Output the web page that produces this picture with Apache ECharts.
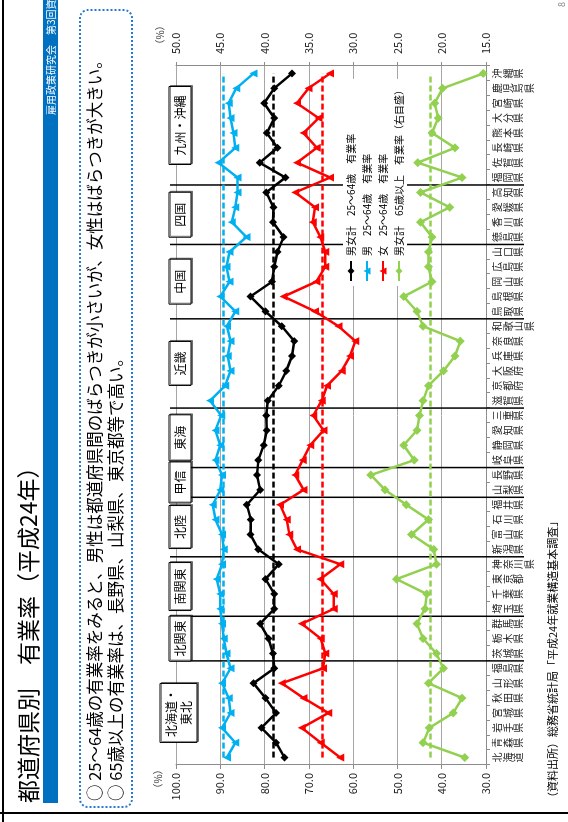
<!DOCTYPE html>
<html>
<head>
<meta charset="utf-8">
<script src="https://cdn.jsdelivr.net/npm/echarts@6/dist/echarts.min.js"></script>
<style>
html, body { margin: 0; padding: 0; background: #fff; overflow: hidden; }
/* the slide is drawn landscape and turned a quarter turn, like the scanned page */
#page {
    position: absolute; left: 0; top: 0;
    width: 822px; height: 568px;
    transform-origin: 0 0;
    transform: translate(0, 822px) rotate(-90deg);
}
</style>
</head>
<body>
<div id="page"></div>
<script>
var FONT = '"Noto Sans CJK JP", "Noto Sans", sans-serif'

var prefs = ['北海道','青森県','岩手県','宮城県','秋田県','山形県','福島県','茨城県','栃木県','群馬県',
    '埼玉県','千葉県','東京都','神奈川県','新潟県','富山県','石川県','福井県','山梨県','長野県',
    '岐阜県','静岡県','愛知県','三重県','滋賀県','京都府','大阪府','兵庫県','奈良県','和歌山県',
    '鳥取県','島根県','岡山県','広島県','山口県','徳島県','香川県','愛媛県','高知県','福岡県',
    '佐賀県','長崎県','熊本県','大分県','宮崎県','鹿児島県','沖縄県']

// 男女計 25～64歳 有業率
var total2564 = [75.5,77.4,80.7,77.4,79.8,82.5,77.8,78.1,79.1,81.0,
    77.8,77.8,79.8,76.8,81.4,83.2,83.1,84.0,81.0,81.7,
    81.4,80.2,79.5,79.6,79.3,76.8,75.1,73.8,73.3,76.1,
    79.8,83.2,78.3,77.8,77.1,75.7,78.1,78.0,79.6,75.3,
    81.1,77.1,79.5,77.8,80.1,77.8,73.8]
// 男 25～64歳
var male2564 = [88.5,86.6,89.6,87.7,88.1,89.6,87.7,88.6,89.2,89.6,
    90.0,90.0,90.8,89.6,89.2,89.6,91.1,91.7,90.0,89.6,
    91.1,90.0,91.1,89.8,92.3,88.9,87.7,88.3,87.7,88.5,
    86.6,90.0,87.9,88.6,87.9,84.1,87.4,86.6,86.1,86.1,
    90.4,86.6,87.0,87.7,88.1,86.4,82.5]
// 女 25～64歳
var female2564 = [62.9,67.3,71.6,65.6,71.2,76.1,66.8,66.3,67.3,71.6,
    64.4,64.4,67.4,62.9,72.7,74.4,75.0,76.5,71.2,73.1,
    71.4,69.7,66.7,69.0,67.1,65.9,62.6,60.7,59.5,63.3,
    68.6,75.7,68.3,66.3,66.3,67.4,69.1,68.6,73.1,65.2,
    72.7,68.2,71.2,67.8,72.7,70.1,65.2]
// 男女計 65歳以上 (右目盛)
var total65 = [17.4,22.1,21.4,18.7,17.7,21.5,19.8,20.6,22.1,22.8,
    21.9,21.7,25.1,20.6,20.9,23.4,21.5,24.0,26.4,28.0,
    23.1,24.3,22.8,22.5,22.1,21.5,19.8,18.5,17.9,22.1,
    22.8,24.3,21.1,21.5,21.5,21.1,22.4,19.1,22.4,17.7,
    22.7,18.5,21.1,20.4,20.8,19.9,15.3]

// 全国平均 (破線)
var avgTotal = 78.1
var avgMale = 89.4
var avgFemale = 66.9
var avg65 = 21.3

var regionNames = ['北海道・\n東北','北関東','南関東','北陸','甲信','東海','近畿','中国','四国','九州・沖縄']
var regionFirst = [0,7,10,14,18,20,24,30,35,39]

var seriesNames = ['男女計　25～64歳　有業率','男　25～64歳　有業率','女　25～64歳　有業率','男女計　65歳以上　有業率（右目盛）']

// box sizes of the region tags
var boxW = [59,45,48,43,41,46,44,45,45,78]

function mk(name, data, color, symbol, size, axis, avg) {
    return {
        name: name,
        type: 'line',
        data: data,
        yAxisIndex: axis,
        symbol: symbol,
        symbolSize: size,
        z: 3,
        lineStyle: { width: 2.5, color: color },
        itemStyle: { color: color },
        markLine: {
            silent: true,
            symbol: ['none','none'],
            label: { show: false },
            lineStyle: { type: [6,3], width: 2.5, color: color },
            data: [[{ coord: [prefs[0], avg] }, { coord: [prefs[prefs.length-1], avg] }]]
        }
    }
}

var staticGraphic = [
    // frame
    { type:'line', shape:{x1:0,y1:3,x2:822,y2:3}, style:{stroke:'#000',lineWidth:2} },
    { type:'line', shape:{x1:9,y1:0,x2:9,y2:568}, style:{stroke:'#000',lineWidth:2} },
    // title + blue band
    { type:'text', x:19, y:28, style:{ text:'都道府県別　有業率（平成24年）', fontSize:23, fontFamily:FONT, fill:'#000', verticalAlign:'middle' } },
    { type:'rect', shape:{x:19,y:43,width:810,height:15}, style:{fill:'#0070c0'} },
    { type:'text', x:707, y:51, style:{ text:'雇用政策研究会　第3回資料', fontSize:10, fontFamily:FONT, fill:'#fff', verticalAlign:'middle' } },
    { type:'text', x:815, y:562, style:{ text:'8', fontSize:9, fontFamily:FONT, fill:'#888', verticalAlign:'middle' } },
    // summary box
    { type:'rect', shape:{x:15,y:80,width:797,height:52,r:8}, style:{fill:'none',stroke:'#2a78cf',lineWidth:2,lineDash:[2,2]} },
    { type:'text', x:21, y:95, style:{ text:'○ 25～64歳の有業率をみると、男性は都道府県間のばらつきが小さいが、女性はばらつきが大きい。', fontSize:16.5, fontFamily:FONT, fill:'#000', verticalAlign:'middle' } },
    { type:'text', x:21, y:116, style:{ text:'○ 65歳以上の有業率は、長野県、山梨県、東京都等で高い。', fontSize:16.5, fontFamily:FONT, fill:'#000', verticalAlign:'middle' } },
    // axis units
    { type:'text', x:43, y:158, style:{ text:'（%）', fontSize:10, fontFamily:FONT, fill:'#333', align:'center', verticalAlign:'middle' } },
    { type:'text', x:787, y:160, style:{ text:'（%）', fontSize:10, fontFamily:FONT, fill:'#333', align:'center', verticalAlign:'middle' } },
    // source
    { type:'text', x:19, y:553, style:{ text:'（資料出所）総務省統計局「平成24年就業構造基本調査」', fontSize:11, fontFamily:FONT, fill:'#000', verticalAlign:'middle' } }
]

var dom = document.getElementById('page')
var chart = echarts.init(dom)
var option = {
    animation: false,
    backgroundColor: '#fff',
    textStyle: { fontFamily: FONT },
    grid: { left: 57, right: 66, top: 176, bottom: 82, containLabel: false, outerBoundsMode: 'none' },
    legend: {
        orient: 'vertical',
        left: 536, top: 343,
        z: 20,
        backgroundColor: '#fff',
        padding: [2, 6, 2, 4],
        itemWidth: 20, itemHeight: 9, itemGap: 4,
        textStyle: { fontSize: 10, lineHeight: 12, color: '#000', fontFamily: FONT },
        data: seriesNames
    },
    xAxis: {
        type: 'category',
        data: prefs,
        axisLine: { lineStyle: { color: '#8c8c8c' } },
        axisTick: { show: true, length: 4, lineStyle: { color: '#8c8c8c' } },
        axisLabel: {
            interval: 0, fontSize: 10, lineHeight: 10.5, color: '#222', margin: 6,
            verticalAlign: 'top',
            formatter: function(v) { return v.split('').join('\n') }
        }
    },
    yAxis: [{
        type: 'value', min: 30, max: 100, interval: 10, position: 'left',
        axisLine: { show: true, lineStyle: { color: '#8c8c8c' } },
        axisTick: { show: true, length: 4, lineStyle: { color: '#8c8c8c' } },
        splitLine: { lineStyle: { color: '#a6a6a6' } },
        axisLabel: { fontSize: 11, color: '#222', margin: 8, formatter: function(v) { return v.toFixed(1) } }
    }, {
        type: 'value', min: 15, max: 50, interval: 5, position: 'right',
        axisLine: { show: true, lineStyle: { color: '#8c8c8c' } },
        axisTick: { show: true, length: 4, lineStyle: { color: '#8c8c8c' } },
        splitLine: { show: false },
        axisLabel: { fontSize: 11, color: '#222', margin: 12, formatter: function(v) { return v.toFixed(1) } }
    }],
    series: [
        mk(seriesNames[0], total2564, '#000000', 'diamond', 8, 0, avgTotal),
        mk(seriesNames[1], male2564, '#00b0f0', 'triangle', 8, 0, avgMale),
        mk(seriesNames[2], female2564, '#ff0000', 'triangle', 8, 0, avgFemale),
        mk(seriesNames[3], total65, '#92d050', 'diamond', 9, 1, avg65)
    ],
    graphic: staticGraphic
}
chart.setOption(option)

// region dividers and tags, placed on the category axis
var regionGraphic = []
var center = function(i) { return chart.convertToPixel({ xAxisIndex: 0 }, i) }
var half = (center(1) - center(0)) / 2
regionFirst.forEach(function(first, k) {
    var last = k < regionFirst.length - 1 ? regionFirst[k+1] - 1 : prefs.length - 1
    var x0 = center(first) - half
    var x1 = center(last) + half
    if (k < regionFirst.length - 1) {
        regionGraphic.push({ type:'line', z: 1, shape:{x1:x1,y1:170,x2:x1,y2:524}, style:{stroke:'#000',lineWidth:1.5} })
    }
    var two = regionNames[k].indexOf('\n') >= 0
    var h = two ? 37 : 22
    var top = two ? 160 : 169
    var cx = (x0 + x1) / 2
    regionGraphic.push({ type:'rect', z: 6, shape:{x:cx - boxW[k]/2, y:top, width:boxW[k], height:h},
        style:{fill:'#fff', stroke:'#000', lineWidth:1, shadowColor:'rgba(0,0,0,0.45)', shadowOffsetX:1, shadowOffsetY:1.5} })
    regionGraphic.push({ type:'text', z: 7, x: cx, y: top + h/2,
        style:{ text: regionNames[k], fontSize:12, lineHeight:15, fontFamily:FONT, fill:'#000', align:'center', verticalAlign:'middle' } })
})
chart.setOption({ graphic: staticGraphic.concat(regionGraphic) })
</script>
</body>
</html>
